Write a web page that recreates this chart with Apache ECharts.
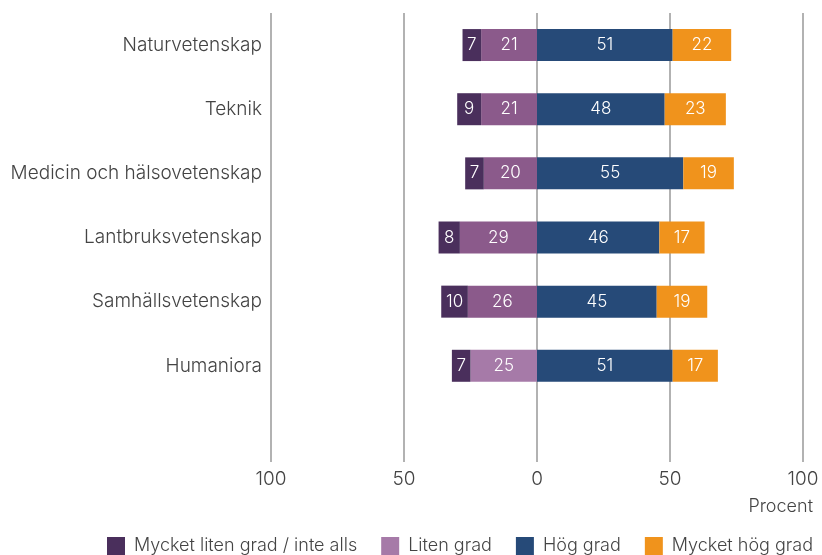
<!DOCTYPE html>
<html><head><meta charset="utf-8">
<script src="https://cdn.jsdelivr.net/npm/echarts@6/dist/echarts.min.js"></script>
<style>html,body{margin:0;padding:0;background:#fff}#c{width:822px;height:555px}</style>
</head><body><div id="c"></div>
<script>
const categories = ['Naturvetenskap','Teknik','Medicin och hälsovetenskap','Lantbruksvetenskap','Samhällsvetenskap','Humaniora',''];
const mycketLiten = [7, 9, 7, 8, 10, 7];
const liten = [21, 21, 20, 29, 26, 25];
const hog = [51, 48, 55, 46, 45, 51];
const mycketHog = [22, 23, 19, 17, 19, 17];

const FONT = 'Inter';
const FW = 300;
const colDark = '#4a2f5c', colLiten = '#8b5a8b', colLitenLight = '#a67aa8', colBlue = '#264a78', colOrange = '#f0931c';

const lbl = {show: true, color: '#fff', fontFamily: FONT, fontWeight: FW, fontSize: 17, formatter: p => Math.abs(p.value)};
function pad(a){ return a.concat(['-']); }

const chart = echarts.init(document.getElementById('c'));
chart.setOption({
  animation: false,
  textStyle: {fontFamily: FONT, fontWeight: FW},
  grid: {left: 271, right: 19, top: 13, bottom: 93, containLabel: false},
  xAxis: {
    type: 'value', min: -100, max: 100, interval: 50,
    axisLine: {show: false}, axisTick: {show: false},
    splitLine: {show: true, lineStyle: {color: '#999', width: 1.5}},
    axisLabel: {color: '#444', fontSize: 19, fontFamily: FONT, fontWeight: FW, margin: 8, formatter: v => Math.abs(v)}
  },
  yAxis: {
    type: 'category', data: categories, inverse: true,
    axisLine: {show: false}, axisTick: {show: false},
    axisLabel: {color: '#444', fontSize: 19, fontFamily: FONT, fontWeight: FW, margin: 9}
  },
  legend: {
    data: ['Mycket liten grad / inte alls', 'Liten grad', 'Hög grad', 'Mycket hög grad'],
    left: 107, top: 537, width: 715, padding: 0, itemWidth: 18, itemHeight: 18, itemGap: 24,
    icon: 'rect',
    textStyle: {color: '#444', fontSize: 18, fontFamily: FONT, fontWeight: FW, padding: [0,0,0,4]}
  },
  graphic: [{type: 'text', right: 9, top: 498, style: {text: 'Procent', fill: '#444', font: FW + ' 18px ' + FONT}}],
  series: [
    {name: 'Liten grad', type: 'bar', stack: 's', barWidth: 32, color: colLitenLight,
     data: pad(liten.map((v, i) => ({value: -v, itemStyle: {color: i === 5 ? colLitenLight : colLiten}}))), label: lbl},
    {name: 'Mycket liten grad / inte alls', type: 'bar', stack: 's', barWidth: 32, color: colDark,
     data: pad(mycketLiten.map(v => -v)), label: lbl},
    {name: 'Hög grad', type: 'bar', stack: 's', barWidth: 32, color: colBlue,
     data: pad(hog), label: lbl},
    {name: 'Mycket hög grad', type: 'bar', stack: 's', barWidth: 32, color: colOrange,
     data: pad(mycketHog), label: lbl}
  ]
});
</script></body></html>
